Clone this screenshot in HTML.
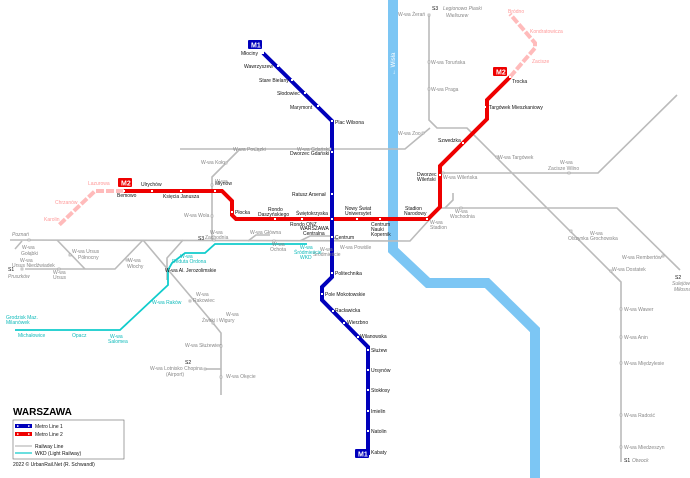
<!DOCTYPE html>
<html><head><meta charset="utf-8"><style>
body{margin:0;background:#fff}
svg{display:block}
text{font-family:"Liberation Sans",sans-serif;font-size:5px}
.k{fill:#111}.g{fill:#888}.c{fill:#1bb}
.r{fill:none;stroke:#bbb;stroke-width:1.6}
.st{fill:#fff;stroke:#999;stroke-width:0.6}
.ms{fill:#fff}
</style></head><body>
<svg width="690" height="478" viewBox="0 0 690 478" xmlns="http://www.w3.org/2000/svg">
<rect width="690" height="478" fill="#fff"/>
<!-- river -->
<polyline points="393,0 393,250 428,283 487,283 535,330 535,478" fill="none" stroke="#7cc6f4" stroke-width="10"/>
<text x="0" y="0" transform="translate(395,75) rotate(-90)" fill="#fff" style="font-size:6px">← Wisła</text>
<!-- railways -->
<g class="r">
<polyline points="10,240 410,241 440,208 617,208 680,270"/>
<polyline points="429,14 429,120 437,128 467,128 621,282 621,462"/>
<polyline points="180,149 405,149 430,128"/>
<polyline points="240,149 212,177 212,240"/>
<polyline points="443,173 598,173 677,95"/>
<polyline points="25,269 115,269 143,240"/>
<polyline points="57,240 85,269"/>
<polyline points="143,240 213,323 221,333 221,395"/>
<polyline points="183,240 167,258 167,280"/>
<polyline points="205,369 221,369"/>
<polyline points="248,241 256,235 270,235"/>
<polyline points="453,193 453,200 445,208"/>
<polyline points="15,249 22,241"/>
<polyline points="300,241 310,236 330,236 340,241"/>
</g>
<!-- WKD -->
<polyline points="307,244 215,244 205,253 185,253 172,263 168,270 168,285 120,330 15,330" fill="none" stroke="#1cc" stroke-width="1.8"/>
<!-- M2 -->
<polyline points="124,191 95,191 58,226" fill="none" stroke="#fbb" stroke-width="4" stroke-dasharray="8,2"/>
<polyline points="510,77 535,48 535,43 510,14" fill="none" stroke="#fbb" stroke-width="4" stroke-dasharray="8,2"/>
<polyline points="124,191 222,191 232,201 232,215 236,219 428,219 440,207 440,166 485,121 487,119 487,100 510,77" fill="none" stroke="#e00" stroke-width="4"/>
<!-- M1 -->
<polyline points="263,53 332,121 332,277 322,287 322,300 368,347 368,455" fill="none" stroke="#00b" stroke-width="4"/>
<!-- metro stations -->
<g class="ms">
<rect x="262" y="52" width="2" height="2"/><rect x="277" y="65" width="2" height="2"/><rect x="291" y="79" width="2" height="2"/><rect x="304" y="92" width="2" height="2"/><rect x="317" y="105" width="2" height="2"/><rect x="331" y="120" width="2" height="2"/><rect x="331" y="151" width="2" height="2"/><rect x="331" y="193" width="2" height="2"/><rect x="331" y="218" width="2" height="2"/><rect x="331" y="236" width="2" height="2"/><rect x="331" y="272" width="2" height="2"/><rect x="321" y="293" width="2" height="2"/><rect x="332" y="310" width="2" height="2"/><rect x="343" y="322" width="2" height="2"/><rect x="357" y="336" width="2" height="2"/><rect x="367" y="349" width="2" height="2"/><rect x="367" y="369" width="2" height="2"/><rect x="367" y="389" width="2" height="2"/><rect x="367" y="410" width="2" height="2"/><rect x="367" y="430" width="2" height="2"/><rect x="367" y="451" width="2" height="2"/>
<rect x="123" y="190" width="2" height="2"/><rect x="151" y="190" width="2" height="2"/><rect x="180" y="190" width="2" height="2"/><rect x="214" y="190" width="2" height="2"/><rect x="231" y="211" width="2" height="2"/><rect x="274" y="218" width="2" height="2"/><rect x="301" y="218" width="2" height="2"/><rect x="356" y="218" width="2" height="2"/><rect x="379" y="218" width="2" height="2"/><rect x="426" y="218" width="2" height="2"/><rect x="439" y="174" width="2" height="2"/><rect x="462" y="142" width="2" height="2"/><rect x="484" y="106" width="2" height="2"/><rect x="509" y="76" width="2" height="2"/>
</g>
<!-- line badges -->
<rect x="248" y="40" width="14" height="9" rx="1" fill="#00b"/><text x="251" y="47.5" fill="#fff" style="font-size:7px;font-weight:bold">M1</text>
<rect x="355" y="449" width="14" height="9" rx="1" fill="#00b"/><text x="358" y="456.5" fill="#fff" style="font-size:7px;font-weight:bold">M1</text>
<rect x="118" y="178" width="14" height="9" rx="1" fill="#e00"/><text x="121" y="185.5" fill="#fff" style="font-size:7px;font-weight:bold">M2</text>
<rect x="493" y="67" width="14" height="9" rx="1" fill="#e00"/><text x="496" y="74.5" fill="#fff" style="font-size:7px;font-weight:bold">M2</text>
<!-- metro labels -->
<g class="k">
<text x="241" y="55">Młociny</text><text x="244" y="68">Wawrzyszew</text><text x="259" y="82">Stare Bielany</text><text x="277" y="95">Słodowiec</text><text x="290" y="109">Marymont</text><text x="335" y="124">Plac Wilsona</text><text x="290" y="155">Dworzec Gdański</text><text x="292" y="196">Ratusz Arsenał</text><text x="335" y="239">Centrum</text><text x="335" y="275">Politechnika</text><text x="325" y="296">Pole Mokotowskie</text><text x="335" y="312">Racławicka</text><text x="347" y="324">Wierzbno</text><text x="360" y="338">Wilanowska</text><text x="371" y="352">Służew</text><text x="371" y="372">Ursynów</text><text x="371" y="392">Stokłosy</text><text x="371" y="413">Imielin</text><text x="371" y="433">Natolin</text><text x="371" y="454">Kabaty</text>
<text x="117" y="197">Bemowo</text><text x="141" y="186">Ulrychów</text><text x="163" y="198">Księcia Janusza</text><text x="215" y="185">Młynów</text><text x="235" y="214">Płocka</text><text x="268" y="211">Rondo</text><text x="258" y="216">Daszyńskiego</text><text x="296" y="215">Świętokrzyska</text><text x="290" y="226">Rondo ONZ</text><text x="300" y="230">WARSZAWA</text><text x="303" y="235">Centralna</text><text x="345" y="210">Nowy Świat</text><text x="345" y="215">Uniwersytet</text><text x="371" y="226">Centrum</text><text x="371" y="231">Nauki</text><text x="371" y="236">Kopernik</text><text x="405" y="210">Stadion</text><text x="404" y="215">Narodowy</text><text x="417" y="176">Dworzec</text><text x="417" y="181">Wileński</text><text x="438" y="142">Szwedzka</text><text x="489" y="109">Targówek Mieszkaniowy</text><text x="512" y="83">Trocka</text>
<text x="165" y="272">W-wa Al. Jerozolimskie</text>
</g>
<g style="fill:#f99">
<text x="88" y="185">Lazurowa</text><text x="55" y="204">Chrzanów</text><text x="44" y="221">Karolin</text><text x="508" y="13">Bródno</text><text x="530" y="33">Kondratowicza</text><text x="532" y="63">Zacisze</text>
</g>
<!-- railway labels -->
<g class="g">
<text x="398" y="16">W-wa Żerań</text><text x="431" y="64">W-wa Toruńska</text><text x="431" y="91">W-wa Praga</text><text x="398" y="135">W-wa Zoo</text><text x="498" y="159">W-wa Targówek</text><text x="560" y="164">W-wa</text><text x="548" y="170">Zacisze Wilno</text><text x="443" y="179">W-wa Wileńska</text><text x="455" y="213">W-wa</text><text x="450" y="218">Wschodnia</text><text x="430" y="224">W-wa</text><text x="430" y="229">Stadion</text><text x="590" y="235">W-wa</text><text x="568" y="240">Olszynka Grochowska</text><text x="622" y="259">W-wa Rembertów</text><text x="612" y="271">W-wa Dostatek</text><text x="624" y="311">W-wa Wawer</text><text x="624" y="339">W-wa Anin</text><text x="624" y="365">W-wa Międzylesie</text><text x="624" y="417">W-wa Radość</text><text x="624" y="449">W-wa Miedzeszyn</text>
<text x="233" y="151">W-wa Powązki</text><text x="297" y="151">W-wa Gdańska</text><text x="201" y="164">W-wa Koło</text><text x="184" y="217">W-wa Wola</text><text x="215" y="183">W-wa</text><text x="250" y="234">W-wa Główna</text><text x="340" y="249">W-wa Powiśle</text><text x="320" y="251">W-wa</text><text x="313" y="256">Śródmieście</text><text x="22" y="249">W-wa</text><text x="21" y="255">Gołąbki</text><text x="20" y="262">W-wa</text><text x="12" y="267">Ursus Niedźwiadek</text><text x="72" y="253">W-wa Ursus</text><text x="78" y="259">Północny</text><text x="53" y="274">W-wa</text><text x="53" y="279">Ursus</text><text x="128" y="262">W-wa</text><text x="127" y="268">Włochy</text><text x="196" y="296">W-wa</text><text x="193" y="302">Rakowiec</text><text x="226" y="316">W-wa</text><text x="202" y="322">Żwirki i Wigury</text><text x="185" y="347">W-wa Służewiec</text><text x="226" y="378">W-wa Okęcie</text><text x="150" y="370">W-wa Lotnisko Chopina</text><text x="166" y="376">(Airport)</text>
<text x="272" y="246">W-wa</text><text x="270" y="251">Ochota</text><text x="210" y="234">W-wa</text><text x="205" y="239">Zachodnia</text>
</g>
<g class="k" style="font-size:5.5px">
<text x="432" y="10">S3</text><text x="198" y="240">S3</text><text x="8" y="271">S1</text><text x="185" y="364">S2</text><text x="675" y="279">S2</text><text x="624" y="462">S1</text>
</g>
<g class="g" style="font-style:italic;font-size:5.5px">
<text x="443" y="10">Legionowo Piaski</text><text x="446" y="17">Wieliszew</text><text x="12" y="236">Poznań</text><text x="8" y="278">Pruszków</text><text x="672" y="285">Sulejówek</text><text x="674" y="291">Miłosna</text><text x="632" y="462">Otwock</text>
</g>
<g class="c">
<text x="300" y="249">W-wa</text><text x="294" y="254">Śródmieście</text><text x="300" y="259">WKD</text><text x="180" y="258">W-wa</text><text x="172" y="263">Reduta Ordona</text><text x="152" y="304">W-wa Raków</text><text x="110" y="338">W-wa</text><text x="108" y="343">Salomea</text><text x="72" y="337">Opacz</text><text x="18" y="337">Michałowice</text><text x="6" y="319">Grodzisk Maz.</text><text x="6" y="324">Milanówek</text>
</g>
<!-- small railway station markers -->
<g class="st">
<rect x="428" y="14" width="2" height="2"/><rect x="428" y="61" width="2" height="2"/><rect x="428" y="88" width="2" height="2"/><rect x="422" y="132" width="2" height="2"/><rect x="496" y="156" width="2" height="2"/><rect x="568" y="172" width="2" height="2"/><rect x="442" y="172" width="2" height="2"/><rect x="460" y="207" width="2" height="2"/><rect x="570" y="230" width="2" height="2"/><rect x="610" y="270" width="2" height="2"/><rect x="620" y="308" width="2" height="2"/><rect x="620" y="336" width="2" height="2"/><rect x="620" y="362" width="2" height="2"/><rect x="620" y="414" width="2" height="2"/><rect x="620" y="446" width="2" height="2"/><rect x="662" y="255" width="2" height="2"/>
<rect x="255" y="148" width="2" height="2"/><rect x="329" y="148" width="2" height="2"/><rect x="225" y="162" width="2" height="2"/><rect x="211" y="184" width="2" height="2"/><rect x="211" y="215" width="2" height="2"/><rect x="213" y="239" width="2" height="2"/><rect x="273" y="240" width="2" height="2"/><rect x="28" y="239" width="2" height="2"/><rect x="21" y="268" width="2" height="2"/><rect x="58" y="268" width="2" height="2"/><rect x="69" y="254" width="2" height="2"/><rect x="126" y="259" width="2" height="2"/><rect x="189" y="300" width="2" height="2"/><rect x="212" y="322" width="2" height="2"/><rect x="220" y="345" width="2" height="2"/><rect x="220" y="376" width="2" height="2"/><rect x="204" y="368" width="2" height="2"/>
</g>
<!-- legend -->
<text x="13" y="415" style="font-size:10px;font-weight:bold;fill:#000">WARSZAWA</text>
<rect x="13" y="420" width="111" height="39" fill="#fff" stroke="#666" stroke-width="0.6"/>
<rect x="15" y="424" width="17" height="4" fill="#00b"/><rect x="17" y="425.3" width="1.5" height="1.5" fill="#fff"/><rect x="28" y="425.3" width="1.5" height="1.5" fill="#fff"/>
<rect x="15" y="432" width="17" height="4" fill="#e00"/><rect x="17" y="433.3" width="1.5" height="1.5" fill="#fff"/><rect x="28" y="433.3" width="1.5" height="1.5" fill="#fff"/>
<line x1="15" y1="446" x2="32" y2="446" stroke="#bbb" stroke-width="1.2"/>
<line x1="15" y1="453" x2="32" y2="453" stroke="#1cc" stroke-width="1.2"/>
<g class="k" style="font-size:5.5px"><text x="35" y="428">Metro Line 1</text><text x="35" y="436">Metro Line 2</text><text x="35" y="448">Railway Line</text><text x="35" y="455">WKD (Light Railway)</text><text x="13" y="466">2022 © UrbanRail.Net (R. Schwandl)</text></g>
</svg>
</body></html>
